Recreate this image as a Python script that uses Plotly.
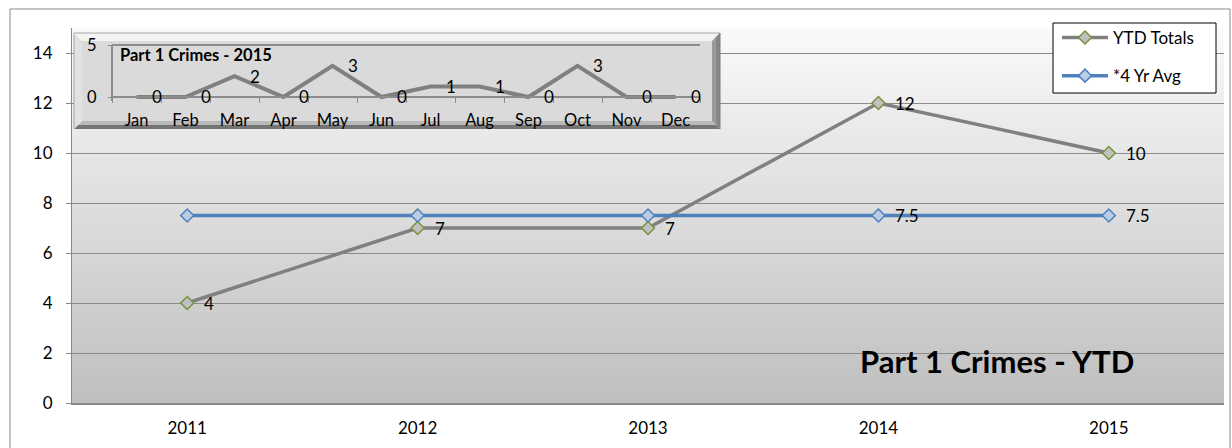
import plotly.graph_objects as go

# ---------------- data ----------------
years = ["2011", "2012", "2013", "2014", "2015"]
ytd_totals = [4, 7, 7, 12, 10]
avg_4yr = [7.5, 7.5, 7.5, 7.5, 7.5]
avg_label_years = ["2014", "2015"]

months = ["Jan", "Feb", "Mar", "Apr", "May", "Jun",
          "Jul", "Aug", "Sep", "Oct", "Nov", "Dec"]
crimes_2015 = [0, 0, 2, 0, 3, 0, 1, 1, 0, 3, 0, 0]

main_title = "Part 1 Crimes - YTD"
inset_title = "Part 1 Crimes - 2015"
y_ticks = [0, 2, 4, 6, 8, 10, 12, 14]
inset_y_ticks = [0, 5]

# ---------------- layout helpers ----------------
W, H = 1232, 448
FONT = "Lato"


def px(x):
    return x / W


def py(y):
    return 1 - y / H


# main plot area (pixels)
PL, PR, PT, PB = 72, 1224, 28, 403
# inset box (outer) and face (inner) in pixels
IL, IR, IT, IB = 74, 720, 33, 129
b = 8
FL, FR, FT, FB = IL + b, IR - b, IT + b, IB - b
# inset plot-area geometry
IAX, IBASE, ITOP, IRIGHT = 112, 97, 45, 700
# legend box
LL, LR, LT, LB = 1053, 1216, 23, 93

fig = go.Figure()

# main series
fig.add_trace(go.Scatter(
    x=years, y=ytd_totals, name="YTD Totals", mode="lines+markers",
    line=dict(color="#808080", width=3.5),
    marker=dict(symbol="diamond", size=10, color="#c0c0c0",
                line=dict(color="#77933c", width=1.5)),
    legendgroup="a", xaxis="x", yaxis="y"))
fig.add_trace(go.Scatter(
    x=years, y=avg_4yr, name="*4 Yr Avg", mode="lines+markers",
    line=dict(color="#4f81bd", width=3.5),
    marker=dict(symbol="diamond", size=10, color="#b9cde5",
                line=dict(color="#4f81bd", width=1.5)),
    legendgroup="b", xaxis="x", yaxis="y"))

# inset series
fig.add_trace(go.Scatter(
    x=months, y=crimes_2015, mode="lines", showlegend=False,
    line=dict(color="#808080", width=4),
    xaxis="x2", yaxis="y2"))

annotations = []
# data labels (category axes take the category index)
for i, v in enumerate(ytd_totals):
    annotations.append(dict(x=i, y=v, xref="x", yref="y", text=str(v),
                            showarrow=False, xanchor="left", xshift=15,
                            font=dict(family=FONT, size=17, color="#000")))
for i, (yr, v) in enumerate(zip(years, avg_4yr)):
    if yr in avg_label_years:
        annotations.append(dict(x=i, y=v, xref="x", yref="y", text=str(v),
                                showarrow=False, xanchor="left", xshift=15,
                                font=dict(family=FONT, size=17, color="#000")))
for i, v in enumerate(crimes_2015):
    annotations.append(dict(x=i, y=v, xref="x2", yref="y2", text=str(v),
                            showarrow=False, xanchor="left", xshift=13,
                            font=dict(family=FONT, size=17, color="#000")))

annotations.append(dict(x=px(997), y=py(361), xref="paper", yref="paper",
                        text="<b>%s</b>" % main_title, showarrow=False,
                        xanchor="center", yanchor="middle",
                        font=dict(family=FONT, size=31, color="#000")))
annotations.append(dict(x=px(118), y=py(55), xref="paper", yref="paper",
                        text="<b>%s</b>" % inset_title, showarrow=False,
                        xanchor="left", yanchor="middle",
                        font=dict(family=FONT, size=16.5, color="#000")))

shapes = []
# outer chart border
shapes.append(dict(type="rect", xref="paper", yref="paper", layer="below",
                   x0=px(10), x1=px(1230), y0=-0.02, y1=py(9),
                   line=dict(color="#898989", width=1), fillcolor="white"))
# gradient plot-area background
N = 75
top_c, bot_c = 250, 191
for i in range(N):
    y0 = PT + (PB - PT) * i / N
    y1 = PT + (PB - PT) * (i + 1) / N
    c = round(top_c + (bot_c - top_c) * (i + 0.5) / N)
    shapes.append(dict(type="rect", xref="paper", yref="paper", layer="below",
                       x0=px(PL), x1=px(PR), y0=py(min(y1 + 0.6, PB)), y1=py(y0),
                       line=dict(width=0), fillcolor="rgb(%d,%d,%d)" % (c, c, c)))


def poly(points, color, layer):
    path = "M " + " L ".join("%f,%f" % (px(a), py(c)) for a, c in points) + " Z"
    return dict(type="path", xref="paper", yref="paper", layer=layer,
                path=path, line=dict(width=0), fillcolor=color)


def seg(x0, y0, x1, y1, color, width, layer):
    return dict(type="line", xref="paper", yref="paper", layer=layer,
                x0=px(x0), y0=py(y0), x1=px(x1), y1=py(y1),
                line=dict(color=color, width=width))


# inset bevel frame
shapes.append(poly([(IL, IT), (IR, IT), (FR, FT), (FL, FT)], "#f4f4f4", "below"))
shapes.append(poly([(IL, IB), (IR, IB), (FR, FB), (FL, FB)], "#b9b9b9", "below"))
shapes.append(poly([(IL + 4, IB - 4), (IR - 4, IB - 4), (IR, IB), (IL, IB)], "#747474", "below"))
shapes.append(seg(IL, IT, IR, IT, "#a6a6a6", 1, "below"))
shapes.append(poly([(IL, IT), (FL, FT), (FL, FB), (IL, IB)], "#e2e2e2", "above"))
shapes.append(poly([(IR, IT), (IR, IB), (FR, FB), (FR, FT)], "#9a9a9a", "above"))
shapes.append(poly([(IR, IT), (IR, IB), (IR - 4, IB - 4), (IR - 4, IT + 4)], "#888888", "above"))
shapes.append(seg(IL, IT, IL, IB, "#a6a6a6", 1, "above"))
shapes.append(seg(IR, IT, IR, IB, "#7a7a7a", 1, "above"))
# inset axis lines / plot-area top border
shapes.append(seg(IAX, ITOP, IAX, IBASE + 4, "#8c8c8c", 2, "above"))
shapes.append(seg(IAX, IBASE, IRIGHT, IBASE, "#8c8c8c", 2, "above"))
shapes.append(seg(IAX, ITOP, IRIGHT, ITOP, "#8c8c8c", 2, "above"))
# legend frame
shapes.append(dict(type="rect", xref="paper", yref="paper", layer="above",
                   x0=px(LL), x1=px(LR), y0=py(LB), y1=py(LT),
                   line=dict(color="#000", width=1), fillcolor="white"))

# inset ranges from pixel geometry (inset subplot domain = bevel face)
cat_w = (IRIGHT - IAX) / len(months)
x2_range = [-0.5 - (IAX - FL) / cat_w, len(months) - 0.5 + (FR - IRIGHT) / cat_w]
unit = (IBASE - ITOP) / 5
y2_range = [-(FB - IBASE) / unit, 5 + (ITOP - FT) / unit]

fig.update_layout(
    width=W, height=H, autosize=False,
    margin=dict(l=0, r=0, t=0, b=0),
    paper_bgcolor="white", plot_bgcolor="#dadada",
    font=dict(family=FONT, size=17, color="#000"),
    showlegend=True,
    legend=dict(x=px(LL + 4), y=py(LT - 3), xanchor="left", yanchor="top",
                bgcolor="rgba(0,0,0,0)", borderwidth=0,
                font=dict(family=FONT, size=17, color="#000"),
                traceorder="grouped", tracegroupgap=13, itemwidth=46),
    xaxis=dict(domain=[px(PL), px(PR)], type="category", range=[-0.5, 4.5],
               showgrid=False, showline=True, linecolor="#888888", linewidth=2,
               ticks="", ticklabelstandoff=9, automargin=False,
               tickfont=dict(family=FONT, size=17, color="#000"),
               fixedrange=True, anchor="y"),
    yaxis=dict(domain=[py(PB), py(PT)], range=[0, 15], tickvals=y_ticks,
               showgrid=True, gridcolor="#8c8c8c", gridwidth=1,
               showline=True, linecolor="#888888", linewidth=1,
               ticks="outside", ticklen=5, tickcolor="#888888",
               ticklabelstandoff=10, automargin=False, zeroline=False,
               tickfont=dict(family=FONT, size=17, color="#000"),
               fixedrange=True, anchor="x"),
    xaxis2=dict(domain=[px(FL), px(FR)], type="category", range=x2_range,
                anchor="free", position=py(IBASE),
                showgrid=False, showline=False, zeroline=False,
                ticks="outside", tickson="boundaries", ticklen=5,
                tickcolor="#8c8c8c", ticklabelstandoff=11, automargin=False,
                tickfont=dict(family=FONT, size=16.5, color="#000"),
                fixedrange=True),
    yaxis2=dict(domain=[py(FB), py(FT)], range=y2_range, tickvals=inset_y_ticks,
                anchor="free", position=px(IAX),
                showgrid=False, showline=False, zeroline=False,
                ticks="outside", ticklen=4, tickcolor="#8c8c8c",
                ticklabelstandoff=8, automargin=False,
                tickfont=dict(family=FONT, size=16.5, color="#000"),
                fixedrange=True),
    shapes=shapes,
    annotations=annotations,
)

fig.write_html("out.html", config={"displayModeBar": False},
               post_script="document.body.style.margin='0';")
